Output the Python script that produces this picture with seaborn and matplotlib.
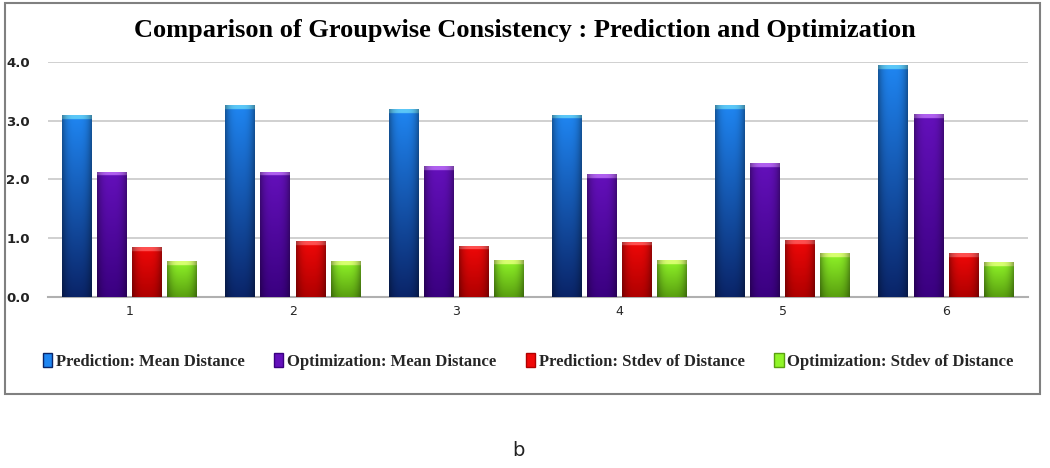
import numpy as np
import pandas as pd
import matplotlib
matplotlib.use("Agg")
import matplotlib.pyplot as plt
from matplotlib.patches import Rectangle, Patch
from matplotlib.colors import to_rgb
import seaborn as sns

groups = ["1", "2", "3", "4", "5", "6"]
series = ["Prediction: Mean Distance", "Optimization: Mean Distance",
          "Prediction: Stdev of Distance", "Optimization: Stdev of Distance"]
pred_mean = [3.09, 3.26, 3.20, 3.10, 3.26, 3.94]
opt_mean = [2.13, 2.13, 2.22, 2.09, 2.28, 3.11]
pred_sd = [0.84, 0.95, 0.87, 0.94, 0.97, 0.74]
opt_sd = [0.61, 0.61, 0.62, 0.62, 0.74, 0.59]

# top colour / bottom colour / cap colour for each series
top_cols = ["#1f86f2", "#6410bb", "#f00808", "#90f528"]
bot_cols = ["#0a2468", "#3a0080", "#b00000", "#5aa010"]
cap_cols = ["#5cc8f8", "#b060f0", "#ff5050", "#d8ff70"]

rows = []
for name, vals in zip(series, [pred_mean, opt_mean, pred_sd, opt_sd]):
    for g, v in zip(groups, vals):
        rows.append({"group": g, "series": name, "value": v})
df = pd.DataFrame(rows)

sns.set_style("white")
fig = plt.figure(figsize=(10.5, 4.68), dpi=100)
ax = fig.add_axes([0.0457, 0.366, 0.933, 0.502])

sns.barplot(data=df, x="group", y="value", hue="series", hue_order=series,
            palette=top_cols, width=0.86, gap=0.15, legend=False, ax=ax,
            edgecolor="none", saturation=1)

# fill each bar with a vertical gradient (light top, dark bottom) and a thin cap
n = len(groups)
for i, bar in enumerate(ax.patches):
    s = i // n
    x0, y0 = bar.get_x(), bar.get_y()
    w, h = bar.get_width(), bar.get_height()
    t = np.array(to_rgb(top_cols[s]))
    b = np.array(to_rgb(bot_cols[s]))
    nr = max(int(h * 100), 10)
    fy = np.linspace(0, 1, nr)[:, None]  # 0 at top
    col = t[None, :] * (1 - fy) + b[None, :] * fy
    xs = np.linspace(-1, 1, 40)
    shade = 1 - 0.35 * np.abs(xs) ** 3
    img = col[:, None, :] * shade[None, :, None]
    cap = np.array(to_rgb(cap_cols[s]))
    img[:7] = cap[None, None, :] * shade[None, :, None]
    im = ax.imshow(img, extent=[x0, x0 + w, y0, y0 + h], aspect="auto",
                   origin="upper", zorder=3, interpolation="bilinear")
    im.set_clip_path(bar)
    bar.set_facecolor("none")

ax.set_xlim(-0.5, n - 0.5)
ax.set_ylim(0, 4)
ax.set_yticks([0, 1, 2, 3, 4])
ax.set_yticklabels(["0.0", "1.0", "2.0", "3.0", "4.0"], fontweight="bold",
                   fontsize=9.5, color="#222222")
ax.tick_params(axis="x", length=0, labelsize=9, pad=6)
ax.tick_params(axis="y", length=0, pad=13)
ax.grid(axis="y", color="#c8c8c8", linewidth=1.2, zorder=0)
ax.set_axisbelow(True)
for sp in ["left", "right", "top"]:
    ax.spines[sp].set_visible(False)
ax.spines["bottom"].set_color("#b0b0b0")
ax.spines["bottom"].set_linewidth(1.5)
ax.set_xlabel("")
ax.set_ylabel("")

fig.text(0.5, 0.935, "Comparison of Groupwise Consistency : Prediction and Optimization",
         ha="center", va="center", fontsize=19, fontweight="bold",
         family="Liberation Serif", color="black")

handles = [Patch(facecolor=c, edgecolor=b) for c, b in zip(top_cols, bot_cols)]
fig.legend(handles, series, loc="center", bbox_to_anchor=(0.503, 0.228), ncol=4,
           frameon=False, handlelength=0.55, handleheight=0.9, handletextpad=0.2,
           columnspacing=1.8, prop={"family": "Liberation Serif", "weight": "bold",
                                    "size": 12.0})

# chart border
fig.patches.append(Rectangle((0.005, 0.158), 0.985, 0.836, transform=fig.transFigure,
                             fill=False, edgecolor="#808080", linewidth=1.5))

fig.text(0.494, 0.017, "b", ha="center", va="bottom", fontsize=14, color="#222222")

fig.savefig("out.png", dpi=100)
